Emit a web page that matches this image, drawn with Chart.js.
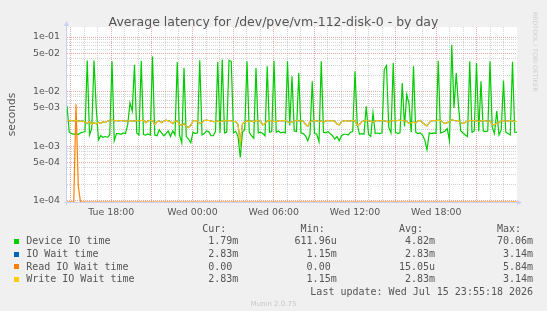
<!DOCTYPE html>
<html>
<head>
<meta charset="utf-8">
<script src="https://cdn.jsdelivr.net/npm/chart.js@4/dist/chart.umd.min.js"></script>
<style>
  body { margin: 0; background: #f0f0f0; }
  #wrap { position: relative; width: 547px; height: 311px; overflow: hidden; }
  canvas { position: absolute; left: 0; top: 0; }
  .t { position: absolute; white-space: pre; color: #555; }
  .title { font: 12.5px "DejaVu Sans"; line-height: 15px; left: 0; width: 547px; text-align: center; top: 13.5px; }
  .mono { font: 10px "DejaVu Sans Mono"; line-height: 12px; }
  .sw { position: absolute; width: 5px; height: 5px; }
  .munin { font: 7px "DejaVu Sans"; color: #c8c8c8; left: 0; width: 547px; text-align: center; top: 300px; }
  .rrd { font: 6.2px "DejaVu Sans"; color: #d0d0d0; writing-mode: vertical-rl; left: 532px; top: 12px; }
</style>
</head>
<body>
<div id="wrap">
  <canvas id="chart" width="547" height="311"></canvas>
  <div class="t title">Average latency for /dev/pve/vm-112-disk-0 - by day</div>
  <div class="t munin">Munin 2.0.75</div>
  <div class="t rrd">RRDTOOL / TOBI OETIKER</div>
</div>
<script>
// time axis: hours since Tue 00:00, one sample every ~10 min
const xStart = 14.73;
const xEnd = 47.96;
const xLabelHours = [18, 24, 30, 36, 42];
const xLabels = ['Tue 18:00', 'Wed 00:00', 'Wed 06:00', 'Wed 12:00', 'Wed 18:00'];

const yMin = 9.47e-5;
const yMax = 0.1525;
const yTickValues = [1e-4, 5e-4, 1e-3, 5e-3, 1e-2, 5e-2, 1e-1];
const yTickLabels = ['1e-04', '5e-04', '1e-03', '5e-03', '1e-02', '5e-02', '1e-01'];

// values in milliseconds
const deviceIoMs = [
  5.5, 1.8, 1.7, 1.65, 1.7, 1.63, 1.75, 1.8, 1.85, 37,
  1.6, 2.1, 37, 5.0, 1.3, 1.55, 1.45, 1.5, 1.45, 1.6,
  35.9, 1.25, 1.7, 1.7, 1.65, 1.75, 1.7, 2.5, 6.2, 4.4,
  31, 1.74, 1.6, 36.8, 1.63, 1.6, 1.67, 1.6, 44, 1.6,
  1.55, 2.0, 1.75, 1.55, 1.7, 1.9, 1.5, 1.9, 1.6, 34.9,
  1.6, 1.15, 27, 1.5, 1.35, 1.15, 1.8, 1.7, 1.75, 37.4,
  1.6, 1.7, 1.9, 1.85, 1.55, 1.55, 1.85, 34.9, 1.75, 38.5,
  1.75, 1.8, 37.4, 35.9, 1.75, 1.87, 1.5, 0.62, 1.8, 2.0,
  35.9, 1.8, 1.55, 1.4, 27, 1.75, 1.8, 1.7, 1.55, 29.1,
  1.8, 1.85, 36.8, 1.8, 1.9, 1.75, 1.8, 1.75, 35.9, 2.4,
  19.1, 1.9, 1.85, 21.9, 1.75, 1.7, 1.55, 1.25, 1.65, 15.4,
  1.7, 1.65, 1.2, 35.9, 1.8, 1.75, 1.85, 1.7, 1.55, 1.35,
  1.5, 1.25, 1.55, 1.65, 1.65, 1.6, 1.8, 1.85, 23.5, 2.5,
  1.65, 1.7, 1.65, 5.4, 1.65, 1.5, 4.1, 1.7, 1.74, 1.7,
  1.75, 25.3, 29.9, 2.2, 1.75, 33.4, 1.8, 1.7, 1.75, 14.4,
  2.3, 8.8, 6.0, 1.8, 29.1, 1.8, 1.7, 1.75, 1.6, 1.3,
  0.86, 1.75, 1.7, 1.75, 1.7, 36.8, 1.75, 1.8, 1.9, 2.1,
  1.25, 72, 5.0, 21.9, 5.4, 1.9, 1.74, 1.6, 1.5, 35.9,
  1.8, 1.9, 33.4, 1.85, 15.4, 1.9, 1.85, 1.9, 35.9, 2.2,
  1.7, 4.4, 1.6, 2.0, 16, 1.8, 1.7, 1.6, 35, 1.8,
  1.79
];

const writeWaitMs = [
  2.95, 2.9, 2.95, 2.9, 2.95, 2.9, 2.85, 2.9, 2.75, 2.6,
  2.85, 2.5, 2.7, 2.55, 2.75, 2.6, 2.8, 2.7, 2.85, 2.95,
  3.1, 2.9, 2.95, 2.9, 2.95, 2.9, 2.85, 2.9, 2.95, 2.85,
  2.9, 2.95, 2.9, 2.95, 3.0, 2.7, 2.9, 2.95, 2.95, 2.5,
  2.8, 2.9, 2.7, 2.85, 3.0, 2.9, 2.8, 2.6, 2.85, 2.9,
  2.5, 2.4, 2.6, 2.3, 2.2, 2.4, 2.9, 2.95, 2.9, 2.6,
  2.7, 2.95, 3.0, 2.95, 2.9, 2.8, 2.85, 2.9, 2.75, 2.9,
  2.95, 2.9, 2.95, 2.9, 2.85, 2.8, 2.5, 1.15, 2.6, 2.75,
  2.9, 2.85, 2.9, 2.8, 2.95, 2.9, 2.85, 2.45, 2.6, 2.9,
  2.95, 2.9, 2.85, 2.8, 2.9, 2.95, 2.9, 2.95, 2.8, 2.7,
  2.75, 2.9, 2.95, 2.9, 2.9, 2.85, 2.5, 2.3, 2.8, 2.9,
  2.95, 2.9, 2.85, 2.9, 2.75, 2.9, 2.95, 2.9, 2.95, 2.85,
  2.55, 2.45, 2.8, 2.9, 2.95, 2.85, 2.9, 2.95, 2.9, 2.4,
  2.5, 2.8, 2.9, 2.95, 2.9, 2.85, 2.75, 2.9, 2.95, 2.9,
  2.95, 2.9, 2.85, 2.75, 2.9, 2.95, 2.9, 2.95, 3.0, 2.95,
  2.9, 2.85, 2.6, 2.7, 2.75, 2.65, 2.9, 2.95, 2.7, 2.5,
  2.35, 2.7, 2.9, 2.95, 2.9, 3.0, 2.95, 2.75, 2.6, 2.7,
  2.85, 3.05, 2.95, 2.9, 2.95, 2.7, 2.6, 2.75, 2.9, 2.95,
  2.9, 2.95, 2.9, 2.85, 2.9, 2.95, 2.9, 2.85, 2.9, 2.5,
  2.45, 2.65, 2.7, 2.9, 2.95, 2.85, 2.9, 2.95, 2.9, 2.85,
  2.83
];

// same numbers as write wait (identical stats in the legend)
const ioWaitMs = writeWaitMs;

const readWaitMs = [
  0, 0, 0, 0, 5.84, 0.19, 0, 0, 0, 0,
  0, 0, 0, 0, 0, 0, 0, 0, 0, 0,
  0, 0, 0, 0, 0, 0, 0, 0, 0, 0,
  0, 0, 0, 0, 0, 0, 0, 0, 0, 0,
  0, 0, 0, 0, 0, 0, 0, 0, 0, 0,
  0, 0, 0, 0, 0, 0, 0, 0, 0, 0,
  0, 0, 0, 0, 0, 0, 0, 0, 0, 0,
  0, 0, 0, 0, 0, 0, 0, 0, 0, 0,
  0, 0, 0, 0, 0, 0, 0, 0, 0, 0,
  0, 0, 0, 0, 0, 0, 0, 0, 0, 0,
  0, 0, 0, 0, 0, 0, 0, 0, 0, 0,
  0, 0, 0, 0, 0, 0, 0, 0, 0, 0,
  0, 0, 0, 0, 0, 0, 0, 0, 0, 0,
  0, 0, 0, 0, 0, 0, 0, 0, 0, 0,
  0, 0, 0, 0, 0, 0, 0, 0, 0, 0,
  0, 0, 0, 0, 0, 0, 0, 0, 0, 0,
  0, 0, 0, 0, 0, 0, 0, 0, 0, 0,
  0, 0, 0, 0, 0, 0, 0, 0, 0, 0,
  0, 0, 0, 0, 0, 0, 0, 0, 0, 0,
  0, 0, 0, 0, 0, 0, 0, 0, 0, 0,
  0
];

const seriesNames = ['Device IO time', 'IO Wait time', 'Read IO Wait time', 'Write IO Wait time'];
const seriesColors = ['#00cc00', '#0066b3', '#ff8000', '#ffcc00'];
const statHeaders = ['Cur:', 'Min:', 'Avg:', 'Max:'];
const curVals = ['1.79m', '2.83m', '0.00 ', '2.83m'];
const minVals = ['611.96u', '1.15m', '0.00 ', '1.15m'];
const avgVals = ['4.82m', '2.83m', '15.05u', '2.83m'];
const maxVals = ['70.06m', '3.14m', '5.84m', '3.14m'];
const lastUpdate = 'Last update: Wed Jul 15 23:55:18 2026';

const majorGrid = 'rgba(220,100,100,0.55)';
const minorGrid = 'rgba(170,170,170,0.5)';
const axisColor = '#cbcff0';
const textColor = '#555';

const xStep = (xEnd - xStart) / (deviceIoMs.length - 1);
// rrdtool pins a zero on a log axis to the bottom edge
const toPoints = (arr) => arr.map((v, i) => ({ x: xStart + i * xStep, y: v > 0 ? v / 1000 : yMin }));

const hourTicks = [];
for (let h = Math.ceil(xStart); h <= xEnd; h++) hourTicks.push(h);

const yGrid = [];
for (let e = -5; e <= -1; e++) {
  for (let m = 1; m <= 9; m++) {
    const v = m * Math.pow(10, e);
    if (v >= yMin && v <= yMax) yGrid.push(v);
  }
}
const yLabelIndex = (v) => yTickValues.findIndex((t) => Math.abs(v - t) / t < 1e-6);

const rrdFrame = {
  id: 'rrdFrame',
  beforeDraw(chart) {
    const { ctx, chartArea: a } = chart;
    ctx.save();
    ctx.fillStyle = '#fff';
    ctx.fillRect(a.left, a.top, a.right - a.left, a.bottom - a.top);
    ctx.restore();
  },
  beforeDatasetsDraw(chart) {
    const { ctx, chartArea: a } = chart;
    ctx.save();
    ctx.strokeStyle = axisColor;
    ctx.fillStyle = axisColor;
    ctx.lineWidth = 1;
    ctx.beginPath();
    ctx.moveTo(a.left - 0.5, a.bottom + 3);
    ctx.lineTo(a.left - 0.5, a.top - 3);
    ctx.moveTo(a.left - 3, a.bottom + 0.5);
    ctx.lineTo(a.right + 2, a.bottom + 0.5);
    ctx.stroke();
    ctx.beginPath();
    ctx.moveTo(a.left - 3, a.top - 1);
    ctx.lineTo(a.left + 2, a.top - 1);
    ctx.lineTo(a.left - 0.5, a.top - 6);
    ctx.closePath();
    ctx.fill();
    ctx.beginPath();
    ctx.moveTo(a.right, a.bottom - 2);
    ctx.lineTo(a.right, a.bottom + 3);
    ctx.lineTo(a.right + 5, a.bottom + 0.5);
    ctx.closePath();
    ctx.fill();
    ctx.restore();
  }
};

const ds = (i, data, order) => ({
  label: seriesNames[i],
  data: toPoints(data),
  borderColor: seriesColors[i],
  backgroundColor: seriesColors[i],
  borderWidth: 1.2,
  pointRadius: 0,
  tension: 0,
  fill: false,
  order: order
});

const ctx = document.getElementById('chart').getContext('2d');
new Chart(ctx, {
  type: 'line',
  data: {
    datasets: [
      ds(0, deviceIoMs, 3),
      ds(1, ioWaitMs, 2),
      ds(2, readWaitMs, 1),
      ds(3, writeWaitMs, 0)
    ]
  },
  options: {
    responsive: false,
    devicePixelRatio: 1,
    animation: false,
    layout: { padding: { top: 27, left: 0, right: 30, bottom: 89 } },
    plugins: { legend: { display: false }, tooltip: { enabled: false }, title: { display: false } },
    scales: {
      x: {
        type: 'linear',
        min: xStart,
        max: xEnd,
        bounds: 'data',
        afterBuildTicks: (scale) => { scale.ticks = hourTicks.map((h) => ({ value: h })); },
        afterFit: (scale) => { scale.height = 20; },
        ticks: {
          autoSkip: false,
          maxRotation: 0,
          padding: 5,
          color: textColor,
          font: { family: 'DejaVu Sans', size: 9.4 },
          callback: (v) => {
            const k = xLabelHours.indexOf(v);
            return k >= 0 ? xLabels[k] : '';
          }
        },
        grid: {
          drawTicks: false,
          lineWidth: 1,
          color: (c) => (c.tick && c.tick.value % 3 === 0 ? majorGrid : minorGrid)
        },
        border: { display: false, dash: [1, 1] }
      },
      y: {
        type: 'logarithmic',
        min: yMin,
        max: yMax,
        bounds: 'data',
        afterBuildTicks: (scale) => { scale.ticks = yGrid.map((v) => ({ value: v })); },
        afterFit: (scale) => { scale.width = 67; },
        ticks: {
          autoSkip: false,
          padding: 7,
          color: textColor,
          font: { family: 'DejaVu Sans', size: 9.4 },
          callback: (v) => {
            const k = yLabelIndex(v);
            return k >= 0 ? yTickLabels[k] : '';
          }
        },
        grid: {
          drawTicks: false,
          lineWidth: 1,
          color: (c) => (c.tick && yLabelIndex(c.tick.value) >= 0 ? majorGrid : minorGrid)
        },
        border: { display: false, dash: [1, 1] },
        title: {
          display: true,
          text: 'seconds',
          color: textColor,
          font: { family: 'DejaVu Sans', size: 10.6 },
          padding: { top: 5.6, bottom: 0 }
        }
      }
    }
  },
  plugins: [rrdFrame]
});

// legend table under the graph
const wrap = document.getElementById('wrap');
const colRight = [238.3, 336.7, 435.1, 533.1];
const rowCenter = [241.4, 254.3, 266.9, 279.4];
const addText = (text, right, center, left) => {
  const d = document.createElement('div');
  d.className = 't mono';
  d.textContent = text;
  d.style.top = (center - 6) + 'px';
  if (left !== undefined) d.style.left = left + 'px';
  else { d.style.right = (547 - right) + 'px'; d.style.textAlign = 'right'; }
  wrap.appendChild(d);
};
statHeaders.forEach((h, c) => addText(h, colRight[c] - 12, 229.2));
const stats = [curVals, minVals, avgVals, maxVals];
seriesNames.forEach((name, r) => {
  const sw = document.createElement('div');
  sw.className = 'sw';
  sw.style.left = '14px';
  sw.style.top = (rowCenter[r] - 2.5) + 'px';
  sw.style.background = seriesColors[r];
  wrap.appendChild(sw);
  addText(name, 0, rowCenter[r], 26.2);
  stats.forEach((col, c) => addText(col[r], colRight[c], rowCenter[r]));
});
addText(lastUpdate, 533.1, 291.6);
</script>
</body>
</html>
